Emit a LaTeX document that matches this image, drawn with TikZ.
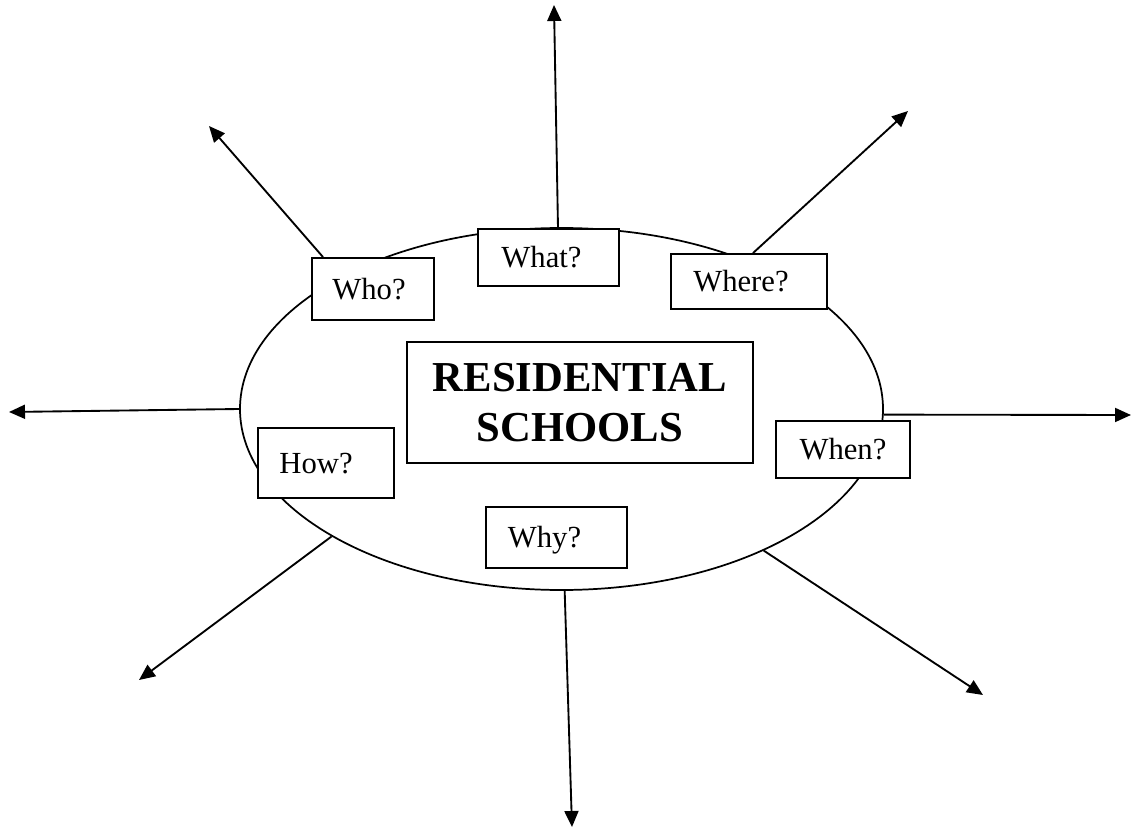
\documentclass[tikz,border=0pt]{standalone}
\usepackage{fontspec}
\setmainfont{Liberation Serif}
\usetikzlibrary{arrows.meta,shapes.geometric}
\tikzset{
  qbox/.style={draw, fill=white, line width=1.4pt, inner sep=0pt,
    font=\fontsize{23}{27}\selectfont, text height=15pt, text depth=0pt},
  titlebox/.style={draw, fill=white, line width=1.4pt, inner sep=0pt, align=center,
    font=\fontsize{32}{37}\selectfont\bfseries},
  ring/.style={draw, ellipse, line width=1.3pt, inner sep=0pt},
  ray/.style={line width=1.4pt, -{Triangle[length=12pt,width=10.5pt]}}
}
\begin{document}
\begin{tikzpicture}[x=0.75pt,y=-0.75pt]
\useasboundingbox (0,0) rectangle (1132,831);
% central ellipse
\node[ring, minimum width=482.25pt, minimum height=271.5pt] (ell) at (561.5,409) {};
% boxes
\node[qbox, minimum width=91.5pt, minimum height=46.5pt] (who) at (373,289) {Who?\kern6pt};
\node[qbox, minimum width=105.75pt, minimum height=42.75pt] (what) at (548.5,257.5) {What?\kern10.5pt};
\node[qbox, minimum width=117pt, minimum height=41.25pt] (where) at (749,281.5) {Where?\kern12pt};
\node[titlebox, minimum width=259.5pt, minimum height=90.75pt] (res) at (580,402.5) {RESIDENTIAL\\SCHOOLS};
\node[qbox, minimum width=100.5pt, minimum height=42.75pt] (when) at (843,449.5) {When?};
\node[qbox, minimum width=102pt, minimum height=52.5pt] (how) at (326,463) {How?\kern15pt};
\node[qbox, minimum width=105.75pt, minimum height=45.75pt] (why) at (556.5,537.5) {Why?\kern18pt};
% arrow tips
\coordinate (tUL) at (209,126);
\coordinate (tU) at (554,5);
\coordinate (tUR) at (908,111);
\coordinate (tL) at (9,412);
\coordinate (tR) at (1131,415);
\coordinate (tLL) at (139,680);
\coordinate (tLR) at (983,695);
\coordinate (tD) at (572,827);
% rays
\draw[ray] (323,0 |- who.north) -- (tUL);
\draw[ray] (558,0 |- what.north) -- (tU);
\draw[ray] (753,0 |- where.north) -- (tUR);
\draw[ray] (ell.180) -- (tL);
\draw[ray] (ell.359) -- (tR);
\draw[ray] (ell.209) -- (tLL);
\draw[ray] (ell.325) -- (tLR);
\draw[ray] (ell.271) -- (tD);
\end{tikzpicture}
\end{document}
